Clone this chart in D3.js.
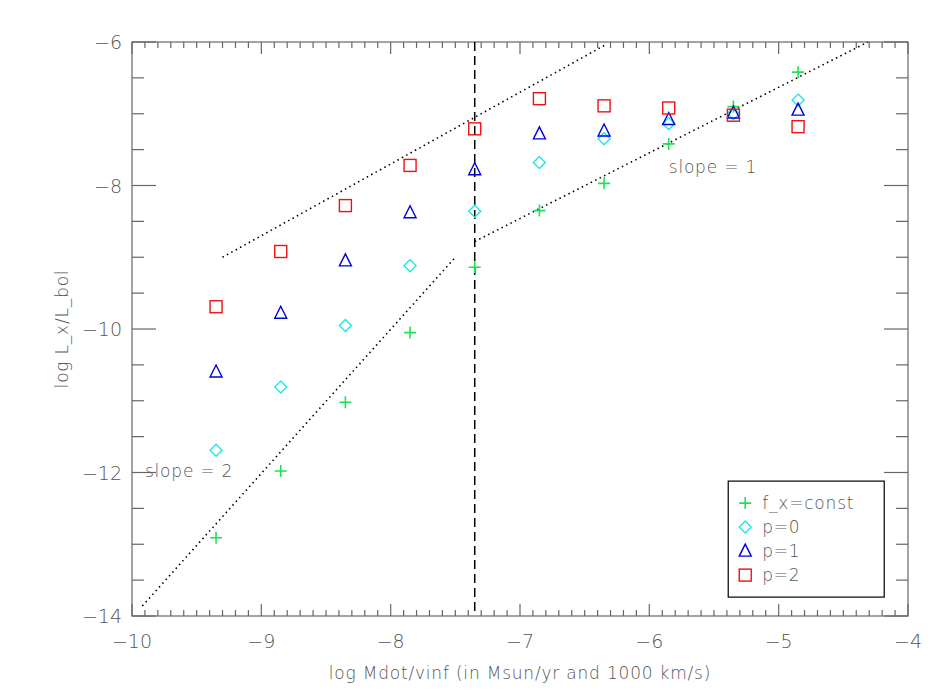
<!DOCTYPE html>
<html>
<head>
<meta charset="utf-8">
<script src="https://cdn.jsdelivr.net/npm/d3@7"></script>
<style>
  body { margin: 0; background: #fff; }
  text { font-family: "DejaVu Sans", sans-serif; fill: #555; font-weight: 300; }
</style>
</head>
<body>
<div id="chart"></div>
<script>
// x positions shared by all series
const xVals = [-9.35, -8.85, -8.35, -7.85, -7.35, -6.85, -6.35, -5.85, -5.35, -4.85];
const fxConst = [-12.91, -11.98, -11.02, -10.05, -9.14, -8.35, -7.97, -7.42, -6.90, -6.42];
const p0 = [-11.69, -10.81, -9.95, -9.12, -8.36, -7.68, -7.35, -7.14, -7.0, -6.81];
const p1 = [-10.60, -9.78, -9.05, -8.38, -7.78, -7.28, -7.24, -7.08, -6.99, -6.95];
const p2 = [-9.69, -8.92, -8.28, -7.72, -7.21, -6.79, -6.89, -6.92, -7.02, -7.18];
const legendLabels = ["f_x=const", "p=0", "p=1", "p=2"];
const xTicks = [-10, -9, -8, -7, -6, -5, -4];
const yTicks = [-14, -12, -10, -8, -6];
// guide lines [x0, y0, x1, y1]
const slopeLines = [
  [-9.3, -9.0, -6.33, -6.03],
  [-7.35, -8.78, -4.31, -6.0],
  [-9.92, -13.86, -7.5, -9.0]
];
const dashedX = -7.35;

const margin = {top: 42, right: 42, bottom: 84, left: 132};
const W = 950, H = 700;
const width = W - margin.left - margin.right;
const height = H - margin.top - margin.bottom;
const axisCol = "#666";

const svg = d3.select("#chart").append("svg").attr("width", W).attr("height", H)
  .append("g").attr("transform", "translate(" + margin.left + "," + margin.top + ")");

const x = d3.scaleLinear().domain([-10, -4]).range([0, width]);
const y = d3.scaleLinear().domain([-14, -6]).range([height, 0]);

// frame
svg.append("rect").attr("width", width).attr("height", height)
  .attr("fill", "none").attr("stroke", axisCol).attr("stroke-width", 1.2);

// ticks on all four sides (IDL style)
const xMinor = d3.range(-10, -3.99, 0.1);
const yMinor = d3.range(-14, -5.99, 0.5);
const tk = svg.append("g").attr("stroke", axisCol).attr("stroke-width", 1.2);
xMinor.forEach(v => {
  const major = xTicks.some(t => Math.abs(t - v) < 1e-6);
  const len = major ? 12 : 6;
  tk.append("line").attr("x1", x(v)).attr("x2", x(v)).attr("y1", height).attr("y2", height - len);
  tk.append("line").attr("x1", x(v)).attr("x2", x(v)).attr("y1", 0).attr("y2", len);
});
yMinor.forEach(v => {
  const major = yTicks.some(t => Math.abs(t - v) < 1e-6);
  const len = major ? 24 : 12;
  tk.append("line").attr("y1", y(v)).attr("y2", y(v)).attr("x1", 0).attr("x2", len);
  tk.append("line").attr("y1", y(v)).attr("y2", y(v)).attr("x1", width).attr("x2", width - len);
});

const fmt = v => "\u2212" + Math.abs(v);
svg.selectAll(".xl").data(xTicks).enter().append("text")
  .attr("x", d => x(d)).attr("y", height + 32).attr("text-anchor", "middle")
  .attr("font-size", 19).text(fmt);
svg.selectAll(".yl").data(yTicks).enter().append("text")
  .attr("x", -10).attr("y", d => y(d) + 7).attr("text-anchor", "end")
  .attr("font-size", 19).text(fmt);

svg.append("text").attr("x", width / 2).attr("y", height + 63).attr("text-anchor", "middle")
  .attr("font-size", 17).attr("letter-spacing", 0.8).text("log Mdot/vinf (in Msun/yr and 1000 km/s)");
svg.append("text").attr("transform", "rotate(-90)").attr("x", -height / 2).attr("y", -64)
  .attr("text-anchor", "middle").attr("font-size", 17).attr("letter-spacing", 0.8).text("log L_x/L_bol");

// guide lines
svg.selectAll(".sl").data(slopeLines).enter().append("line")
  .attr("x1", d => x(d[0])).attr("y1", d => y(d[1]))
  .attr("x2", d => x(d[2])).attr("y2", d => y(d[3]))
  .attr("stroke", "#000").attr("stroke-width", 1.6).attr("stroke-dasharray", "1.5,3.5");
svg.append("line").attr("x1", x(dashedX)).attr("x2", x(dashedX)).attr("y1", 0).attr("y2", height)
  .attr("stroke", "#000").attr("stroke-width", 1.5).attr("stroke-dasharray", "9,5");

svg.append("text").attr("x", x(-5.85)).attr("y", y(-7.82)).attr("font-size", 17).attr("letter-spacing", 0.8).text("slope = 1");
svg.append("text").attr("x", x(-9.9)).attr("y", y(-12.06)).attr("font-size", 17).attr("letter-spacing", 0.8).text("slope = 2");

// markers
const colors = ["#22e055", "#22e5e8", "#0000dd", "#ee1111"];
const series = [fxConst, p0, p1, p2];
function marker(g, type, cx, cy, col) {
  const s = 6;
  if (type === 0) {
    g.append("path").attr("d", `M${cx - s},${cy}H${cx + s}M${cx},${cy - s}V${cy + s}`)
      .attr("stroke", col).attr("stroke-width", 1.6).attr("fill", "none");
  } else if (type === 1) {
    g.append("path").attr("d", `M${cx},${cy - s}L${cx + s},${cy}L${cx},${cy + s}L${cx - s},${cy}Z`)
      .attr("stroke", col).attr("stroke-width", 1.4).attr("fill", "none");
  } else if (type === 2) {
    g.append("path").attr("d", `M${cx},${cy - s - 1}L${cx + s},${cy + s - 1}L${cx - s},${cy + s - 1}Z`)
      .attr("stroke", col).attr("stroke-width", 1.4).attr("fill", "none");
  } else {
    g.append("rect").attr("x", cx - s).attr("y", cy - s).attr("width", 2 * s).attr("height", 2 * s)
      .attr("stroke", col).attr("stroke-width", 1.4).attr("fill", "none");
  }
}
series.forEach((vals, i) => {
  const g = svg.append("g");
  vals.forEach((v, j) => marker(g, i, x(xVals[j]), y(v), colors[i]));
});

// legend
const lg = svg.append("g").attr("transform", "translate(" + (x(-5.39)) + "," + (y(-12.12)) + ")");
lg.append("rect").attr("width", 156).attr("height", 116).attr("fill", "#fff")
  .attr("stroke", "#000").attr("stroke-width", 1.2);
legendLabels.forEach((l, i) => {
  marker(lg, i, 17, 22 + i * 24, colors[i]);
  lg.append("text").attr("x", 34).attr("y", 28 + i * 24).attr("font-size", 17).attr("letter-spacing", 0.8).text(l);
});
</script>
</body>
</html>
